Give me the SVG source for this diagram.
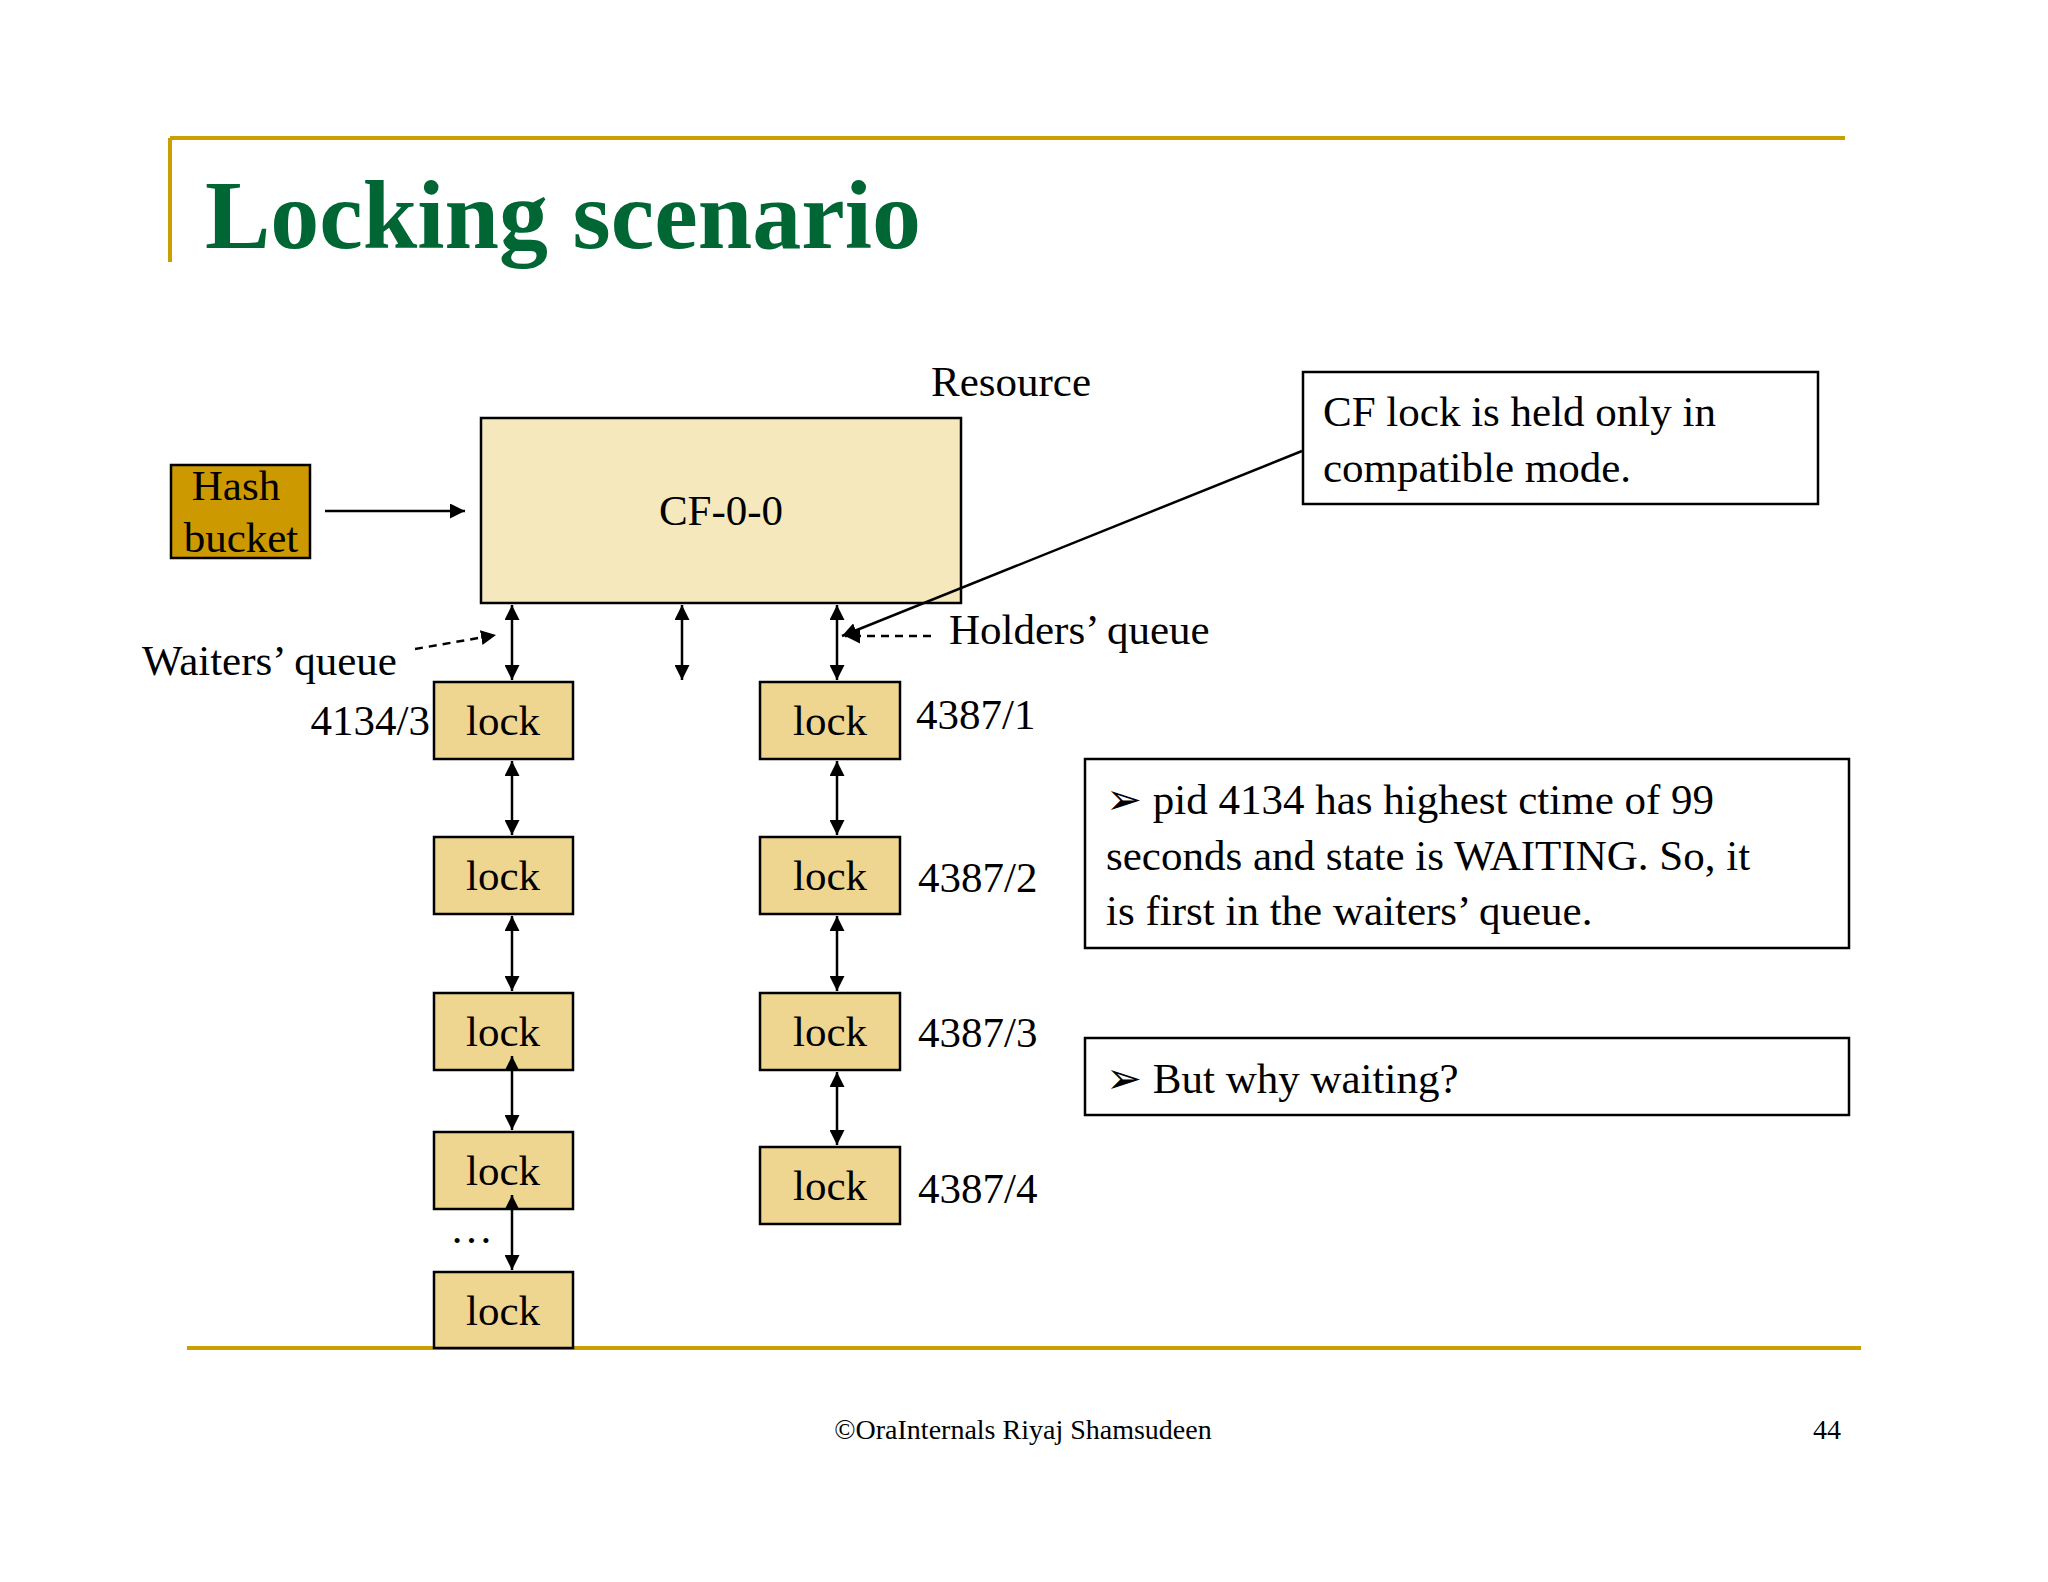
<svg xmlns="http://www.w3.org/2000/svg" width="2048" height="1582" viewBox="0 0 2048 1582">
<style>
text{font-family:"Liberation Serif",serif;fill:#000}
.t{font-size:43px}
.lk{fill:#eed590;stroke:#000;stroke-width:2.5}
.bx{fill:#fff;stroke:#000;stroke-width:2.5}
.ln{stroke:#000;stroke-width:2.5;fill:none}
.d{stroke:#000;stroke-width:2.5;stroke-dasharray:8,6;fill:none}
</style>
<defs>
<marker id="a" viewBox="0 0 10 10" refX="10" refY="5" markerWidth="6" markerHeight="6" orient="auto-start-reverse"><path d="M0,0L10,5L0,10z" fill="#000"/></marker>
</defs>
<rect width="2048" height="1582" fill="#fff"/>
<path d="M170,138H1845M170,138V262" stroke="#c9a000" stroke-width="4" fill="none"/>
<text x="205" y="248" style="font-size:98px;font-weight:bold;fill:#006633">Locking scenario</text>
<line x1="187" y1="1348" x2="1861" y2="1348" stroke="#c9a000" stroke-width="4"/>
<text x="931" y="396" class="t">Resource</text>
<g id="hash"><rect x="171" y="465" width="139" height="93" fill="#cc9900" stroke="#000" stroke-width="2.5"/><text x="236" y="500" class="t" text-anchor="middle">Hash</text><text x="241" y="552" class="t" text-anchor="middle">bucket</text></g>
<g id="cf"><rect x="481" y="418" width="480" height="185" fill="#f5e8bd" stroke="#000" stroke-width="2.5"/><text x="721" y="525" class="t" text-anchor="middle">CF-0-0</text></g>
<g id="note1"><rect x="1303" y="372" width="515" height="132" class="bx"/><text x="1323" y="426" class="t">CF lock is held only in</text><text x="1323" y="482" class="t">compatible mode.</text></g>
<g id="note2"><rect x="1085" y="759" width="764" height="189" class="bx"/><text x="1106" y="814" class="t">➢ pid 4134 has highest ctime of 99</text><text x="1106" y="870" class="t">seconds and state is WAITING. So, it</text><text x="1106" y="925" class="t">is first in the waiters’ queue.</text></g>
<g id="note3"><rect x="1085" y="1038" width="764" height="77" class="bx"/><text x="1106" y="1093" class="t">➢ But why waiting?</text></g>
<g id="labels">
<text x="142" y="675" class="t">Waiters’ queue</text>
<text x="949" y="644" class="t">Holders’ queue</text>
<text x="430" y="735" class="t" text-anchor="end">4134/3</text>
<text x="916" y="729" class="t">4387/1</text>
<text x="918" y="892" class="t">4387/2</text>
<text x="918" y="1047" class="t">4387/3</text>
<text x="918" y="1203" class="t">4387/4</text>
<text x="450" y="1243" class="t">…</text>
</g>
<g id="locks">
<g id="l1"><rect x="434" y="682" width="139" height="77" class="lk"/><text x="503" y="735" class="t" text-anchor="middle">lock</text></g>
<g id="l2"><rect x="434" y="837" width="139" height="77" class="lk"/><text x="503" y="890" class="t" text-anchor="middle">lock</text></g>
<g id="l3"><rect x="434" y="993" width="139" height="77" class="lk"/><text x="503" y="1046" class="t" text-anchor="middle">lock</text></g>
<g id="l4"><rect x="434" y="1132" width="139" height="77" class="lk"/><text x="503" y="1185" class="t" text-anchor="middle">lock</text></g>
<g id="l5"><rect x="434" y="1272" width="139" height="76" class="lk"/><text x="503" y="1325" class="t" text-anchor="middle">lock</text></g>
<g id="r1"><rect x="760" y="682" width="140" height="77" class="lk"/><text x="830" y="735" class="t" text-anchor="middle">lock</text></g>
<g id="r2"><rect x="760" y="837" width="140" height="77" class="lk"/><text x="830" y="890" class="t" text-anchor="middle">lock</text></g>
<g id="r3"><rect x="760" y="993" width="140" height="77" class="lk"/><text x="830" y="1046" class="t" text-anchor="middle">lock</text></g>
<g id="r4"><rect x="760" y="1147" width="140" height="77" class="lk"/><text x="830" y="1200" class="t" text-anchor="middle">lock</text></g>
</g>
<g id="connectors">
<line x1="325" y1="511" x2="465" y2="511" class="ln" marker-end="url(#a)"/>
<line x1="512" y1="605" x2="512" y2="680" class="ln" marker-start="url(#a)" marker-end="url(#a)"/>
<line x1="682" y1="605" x2="682" y2="680" class="ln" marker-start="url(#a)" marker-end="url(#a)"/>
<line x1="837" y1="605" x2="837" y2="680" class="ln" marker-start="url(#a)" marker-end="url(#a)"/>
<line x1="512" y1="761" x2="512" y2="835" class="ln" marker-start="url(#a)" marker-end="url(#a)"/>
<line x1="512" y1="916" x2="512" y2="991" class="ln" marker-start="url(#a)" marker-end="url(#a)"/>
<line x1="512" y1="1056" x2="512" y2="1130" class="ln" marker-start="url(#a)" marker-end="url(#a)"/>
<line x1="512" y1="1195" x2="512" y2="1270" class="ln" marker-start="url(#a)" marker-end="url(#a)"/>
<line x1="837" y1="761" x2="837" y2="835" class="ln" marker-start="url(#a)" marker-end="url(#a)"/>
<line x1="837" y1="916" x2="837" y2="991" class="ln" marker-start="url(#a)" marker-end="url(#a)"/>
<line x1="837" y1="1072" x2="837" y2="1145" class="ln" marker-start="url(#a)" marker-end="url(#a)"/>
<line x1="1302" y1="451" x2="842" y2="636" class="ln" marker-end="url(#a)"/>
<line x1="931" y1="636" x2="845" y2="636" class="d" marker-end="url(#a)"/>
<line x1="415" y1="649" x2="496" y2="635" class="d" marker-end="url(#a)"/>
</g>
<text x="1023" y="1439" text-anchor="middle" style="font-size:28px">©OraInternals  Riyaj Shamsudeen</text>
<text x="1827" y="1439" text-anchor="middle" style="font-size:28px">44</text>
</svg>
